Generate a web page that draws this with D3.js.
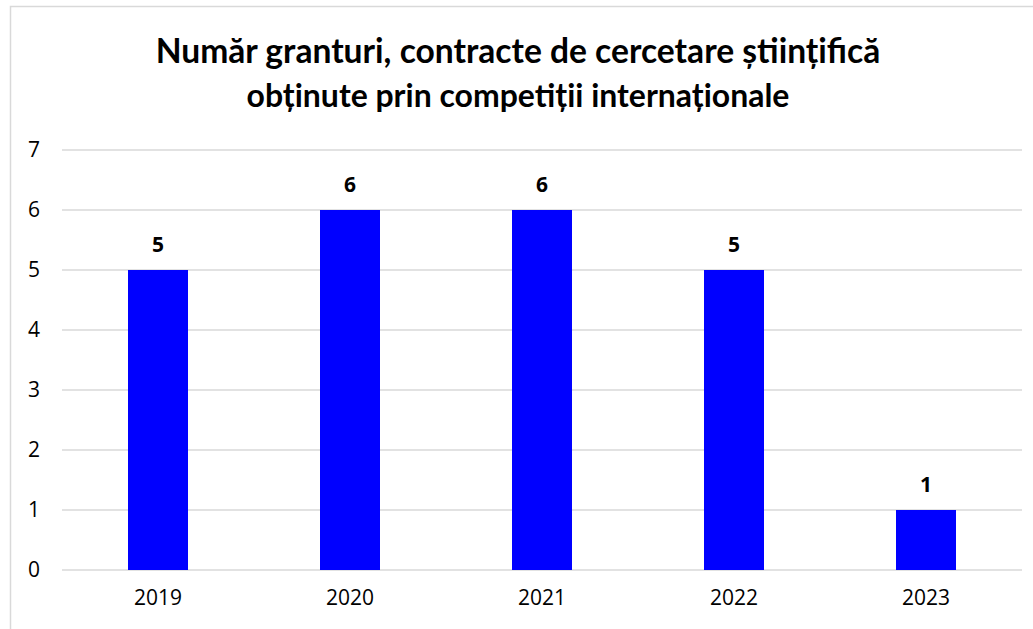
<!DOCTYPE html>
<html>
<head>
<meta charset="utf-8">
<script src="https://cdn.jsdelivr.net/npm/d3@7"></script>
<style>
	body { margin: 0; background: #fff; }
	text { font-family: "Open Sans", "Noto Sans", sans-serif; fill: #000; }
	text.title { font-family: Lato, "Open Sans", sans-serif; }
</style>
</head>
<body>
<div id="chart-area"></div>
<script>
// Data
var years = ["2019", "2020", "2021", "2022", "2023"];
var grants = [5, 6, 6, 5, 1];
var yTicks = [0, 1, 2, 3, 4, 5, 6, 7];
var titleLines = ["Număr granturi, contracte de cercetare științifică", "obținute prin competiții internaționale"];

var width = 1033,
	height = 629;

var margin = {top: 150, right: 11, bottom: 59, left: 62};

var svg = d3.select("#chart-area").append("svg")
	.attr("width", width)
	.attr("height", height);

// chart border
svg.append("rect")
	.attr("x", 10.5)
	.attr("y", 6.5)
	.attr("width", width + 10)
	.attr("height", height + 10)
	.attr("fill", "none")
	.attr("stroke", "#d9d9d9")
	.attr("stroke-width", 1.5);

// title, sized to fit the width of the original
var titleWidths = [725, 543];
titleLines.forEach(function(line, i) {
	var t = svg.append("text")
		.attr("class", "title")
		.attr("x", 518)
		.attr("y", 63 + i * 44)
		.attr("text-anchor", "middle")
		.style("font-weight", "bold")
		.style("font-size", "30px")
		.text(line);
	var w = t.node().getComputedTextLength();
	var size = Math.min(36, 30 * titleWidths[i] / w);
	t.style("font-size", size + "px");
});

var g = svg.append("g")
	.attr("transform", "translate(" + margin.left + "," + margin.top + ")");

var x = d3.scaleBand()
	.domain(years)
	.range([0, 960])
	.paddingInner(0.6875)
	.paddingOuter(0.34375);

var y = d3.scaleLinear()
	.domain([0, 7])
	.range([420, 0]);

// gridlines
g.selectAll(".grid")
	.data(yTicks)
	.enter()
	.append("line")
	.attr("class", "grid")
	.attr("x1", 0)
	.attr("x2", 960)
	.attr("y1", d => y(d))
	.attr("y2", d => y(d))
	.attr("stroke", "#d9d9d9")
	.attr("stroke-width", 1.5);

// y axis labels
var yAxis = d3.axisLeft(y)
	.tickValues(yTicks)
	.tickFormat(d3.format("d"))
	.tickSize(0)
	.tickPadding(22);

g.append("g")
	.attr("class", "y-axis")
	.call(yAxis)
	.call(a => a.select(".domain").remove())
	.selectAll("text")
	.style("font-size", "21px")
	.attr("fill", "#000");

// x axis labels
var xAxis = d3.axisBottom(x)
	.tickSize(0)
	.tickPadding(20);

g.append("g")
	.attr("class", "x-axis")
	.attr("transform", "translate(0,420)")
	.call(xAxis)
	.call(a => a.select(".domain").remove())
	.selectAll("text")
	.style("font-size", "21px")
	.attr("fill", "#000");

// bars
g.selectAll("rect.bar")
	.data(grants)
	.enter()
	.append("rect")
	.attr("class", "bar")
	.attr("x", (d, i) => x(years[i]))
	.attr("y", d => y(d))
	.attr("width", x.bandwidth())
	.attr("height", d => y(0) - y(d))
	.attr("fill", "#0000ff");

// value labels
g.selectAll("text.value")
	.data(grants)
	.enter()
	.append("text")
	.attr("class", "value")
	.attr("x", (d, i) => x(years[i]) + x.bandwidth() / 2)
	.attr("y", d => y(d) - 18)
	.attr("text-anchor", "middle")
	.style("font-size", "21px")
	.style("font-weight", "bold")
	.text(d => d);
</script>
</body>
</html>
